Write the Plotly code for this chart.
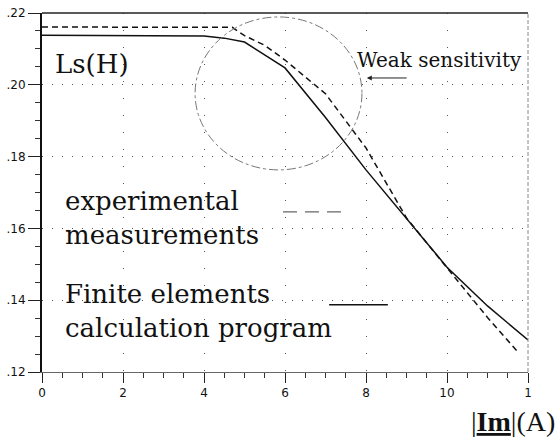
import plotly.graph_objects as go

# Data
solid_x = [0, 4, 4.5, 5, 6, 7, 8, 9, 10, 11, 12]
solid_y = [0.2138, 0.2136, 0.2130, 0.2119, 0.2047, 0.1909, 0.1763, 0.1629, 0.1492, 0.1384, 0.1289]

dashed_x = [0, 4.7, 5, 5.5, 6, 7, 8, 9, 10, 11, 11.75]
dashed_y = [0.2161, 0.2160, 0.2137, 0.2110, 0.2069, 0.1975, 0.1824, 0.1629, 0.1490, 0.1352, 0.1256]

x_tickvals = [0, 2, 4, 6, 8, 10, 12]
x_ticktext = ["0", "2", "4", "6", "8", "10", "1"]
y_tickvals = [0.12, 0.14, 0.16, 0.18, 0.20, 0.22]
y_ticktext = [".12", ".14", ".16", ".18", ".20", ".22"]

SERIF = "DejaVu Serif"

fig = go.Figure()
fig.add_trace(go.Scatter(x=dashed_x, y=dashed_y, mode="lines",
                         line=dict(color="#111", width=1.5, dash="6px,4px"),
                         showlegend=False, hoverinfo="skip"))
fig.add_trace(go.Scatter(x=solid_x, y=solid_y, mode="lines",
                         line=dict(color="#111", width=1.5),
                         showlegend=False, hoverinfo="skip"))

shapes = [
    # dash-dot circle of weak sensitivity
    dict(type="circle", xref="x", yref="y", x0=3.78, x1=7.90, y0=0.1763, y1=0.2189,
         line=dict(color="#777", width=1, dash="dashdot")),
    # legend samples
    dict(type="line", xref="x", yref="y", x0=5.95, x1=7.53, y0=0.1646, y1=0.1646,
         line=dict(color="#666", width=1.2, dash="14px,8px")),
    dict(type="line", xref="x", yref="y", x0=7.09, x1=8.54, y0=0.1387, y1=0.1387,
         line=dict(color="#111", width=1.5)),
    # frame top and right
    dict(type="line", xref="paper", yref="paper", x0=0, x1=1, y0=1, y1=1,
         line=dict(color="#222", width=1.5)),
    dict(type="line", xref="paper", yref="paper", x0=1, x1=1, y0=0, y1=1,
         line=dict(color="#888", width=1, dash="4px,2px")),
]

annotations = [
    dict(text="Ls(H)", x=0.27, y=0.2058, xref="x", yref="y", xanchor="left", yanchor="middle",
         showarrow=False, font=dict(family=SERIF, size=26, color="#111")),
    dict(text="Weak sensitivity", x=7.73, y=0.2069, xref="x", yref="y", xanchor="left",
         yanchor="middle", showarrow=False, font=dict(family=SERIF, size=20, color="#111")),
    dict(text="", x=8.02, y=0.2019, ax=9.04, ay=0.2019, xref="x", yref="y", axref="x",
         ayref="y", showarrow=True, arrowhead=2, arrowsize=1, arrowwidth=1, arrowcolor="#222"),
    dict(text="experimental<br>measurements", x=0.52, y=0.1630, xref="x", yref="y",
         xanchor="left", yanchor="middle", align="left", showarrow=False,
         font=dict(family=SERIF, size=26, color="#111")),
    dict(text="Finite elements<br>calculation program", x=0.52, y=0.1371, xref="x", yref="y",
         xanchor="left", yanchor="middle", align="left", showarrow=False,
         font=dict(family=SERIF, size=26, color="#111")),
    dict(text="|<u><b>Im</b></u>|(A)", x=1.0597, y=-0.139, xref="paper", yref="paper",
         xanchor="right", yanchor="middle", showarrow=False,
         font=dict(family="Liberation Serif", size=28, color="#111")),
]

fig.update_layout(
    width=558, height=443,
    margin=dict(l=42, r=30, t=13, b=71),
    plot_bgcolor="white", paper_bgcolor="white",
    shapes=shapes, annotations=annotations,
    xaxis=dict(range=[0, 12], tickvals=x_tickvals, ticktext=x_ticktext, automargin=False,
               ticklabeloverflow="allow",
               ticks="outside", ticklen=10, tickwidth=1.2, tickcolor="#222",
               showline=True, linecolor="#666", linewidth=1,
               showgrid=True, gridcolor="#555", gridwidth=1.3, griddash="1px,16px",
               zeroline=False,
               minor=dict(dtick=0.5, ticks="outside", ticklen=5, tickcolor="#333", showgrid=False),
               tickfont=dict(family="DejaVu Sans", size=12, color="#111")),
    yaxis=dict(range=[0.12, 0.22], tickvals=y_tickvals, ticktext=y_ticktext, automargin=False,
               ticklabeloverflow="allow",
               ticks="outside", ticklen=12, tickwidth=1.2, tickcolor="#222",
               showline=True, linecolor="#111", linewidth=2,
               showgrid=True, gridcolor="#555", gridwidth=1.3, griddash="1px,9px",
               zeroline=False,
               minor=dict(dtick=0.005, ticks="outside", ticklen=5, tickcolor="#333", showgrid=False),
               tickfont=dict(family="DejaVu Sans", size=12, color="#111")),
)

fig.write_html("out.html", config={"displayModeBar": False},
               post_script="document.body.style.margin='0';document.body.style.overflow='hidden';")
